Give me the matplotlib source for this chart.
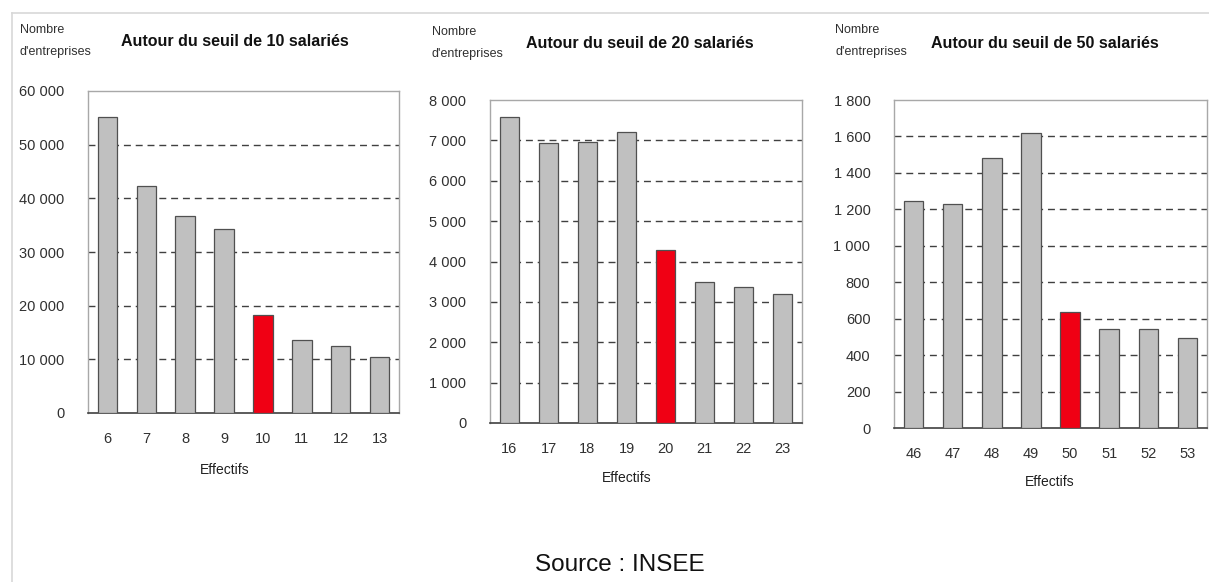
import matplotlib
matplotlib.use("Agg")
import matplotlib.pyplot as plt
from matplotlib.lines import Line2D

plt.rcParams['font.family'] = ['Liberation Sans', 'DejaVu Sans']

W, H = 1209, 582

# effectifs autour de chaque seuil et nombre d'entreprises
eff_10 = ["6", "7", "8", "9", "10", "11", "12", "13"]
nb_10 = [55200, 42300, 36700, 34300, 18300, 13600, 12500, 10500]

eff_20 = ["16", "17", "18", "19", "20", "21", "22", "23"]
nb_20 = [7590, 6930, 6970, 7200, 4290, 3490, 3360, 3190]

eff_50 = ["46", "47", "48", "49", "50", "51", "52", "53"]
nb_50 = [1244, 1228, 1480, 1621, 638, 543, 545, 494]

seuils = ["10", "20", "50"]
ymax = [60000, 8000, 1800]
ystep = [10000, 1000, 200]

# boites des graphiques en pixels: gauche, droite, haut, bas
boxes = [(88, 399, 91, 413), (490, 802, 100, 423), (894, 1207, 100, 428)]
titre_xy = [(235, 42), (640, 43), (1045, 43)]
nombre_xy = [(20, 30), (432, 32), (835, 30)]
effectifs_xy = [(225, 470), (627, 478), (1050, 482)]

GRIS = "#c0c0c0"
ROUGE = "#f00014"


def fmt(v):
    return "{:,}".format(int(v)).replace(",", " ")


fig = plt.figure(figsize=(W / 100, H / 100), dpi=100)
fig.patch.set_facecolor("white")

# cadre clair autour de l'image
fig.add_artist(Line2D([12 / W, 1], [1 - 13 / H, 1 - 13 / H], color="#d8d8d8", lw=1.2))
fig.add_artist(Line2D([12 / W, 12 / W], [0, 1 - 13 / H], color="#d8d8d8", lw=1.2))

for i, (eff, nb) in enumerate([(eff_10, nb_10), (eff_20, nb_20), (eff_50, nb_50)]):
    l, r, t, b = boxes[i]
    ax = fig.add_axes([l / W, 1 - b / H, (r - l) / W, (b - t) / H])
    x = list(range(len(eff)))
    couleurs = [ROUGE if e == seuils[i] else GRIS for e in eff]
    ax.bar(x, nb, width=0.5, color=couleurs, edgecolor="#505050", linewidth=0.9, zorder=3)
    ax.set_xlim(-0.5, len(eff) - 0.5)
    ax.set_ylim(0, ymax[i])
    yt = list(range(0, ymax[i] + 1, ystep[i]))
    ax.set_yticks(yt)
    ax.set_yticklabels([fmt(v) for v in yt], fontsize=10.5, color="#303030")
    ax.set_xticks(x)
    ax.set_xticklabels(eff, fontsize=10.5, color="#303030")
    ax.tick_params(axis="y", length=0, pad=17)
    ax.tick_params(axis="x", length=0, pad=14)
    for v in yt[1:-1]:
        ax.axhline(v, color="#404040", lw=1.0, ls=(0, (5, 3.5)), zorder=1)
    for s in ["left", "right", "top"]:
        ax.spines[s].set_color("#a8a8a8")
        ax.spines[s].set_linewidth(1.0)
    ax.spines["bottom"].set_color("#404040")
    ax.spines["bottom"].set_linewidth(1.2)

    tx, ty = titre_xy[i]
    fig.text(tx / W, 1 - ty / H, "Autour du seuil de %s salariés" % seuils[i],
             ha="center", va="center", fontsize=11.5, fontweight="bold", color="#111111")
    nx, ny = nombre_xy[i]
    fig.text(nx / W, 1 - ny / H, "Nombre", ha="left", va="center", fontsize=9, color="#303030")
    fig.text(nx / W, 1 - (ny + 22) / H, "d'entreprises", ha="left", va="center", fontsize=9, color="#303030")
    ex, ey = effectifs_xy[i]
    fig.text(ex / W, 1 - ey / H, "Effectifs", ha="center", va="center", fontsize=10, color="#202020")

fig.text(620 / W, 1 - 565 / H, "Source : INSEE", ha="center", va="center", fontsize=17.5, color="#111111")

fig.savefig("out.png", dpi=100, facecolor="white")
